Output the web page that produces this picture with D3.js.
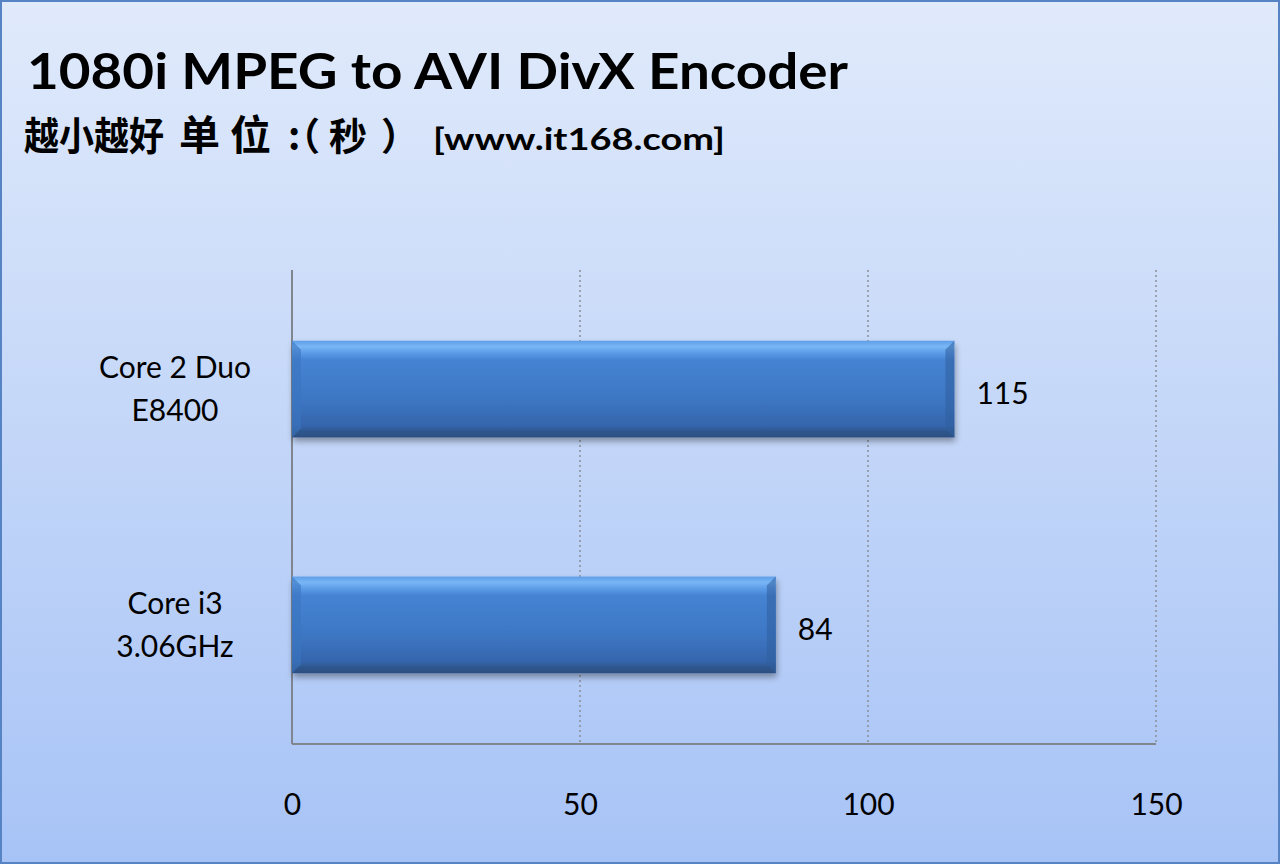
<!DOCTYPE html>
<html><head><meta charset="utf-8">
<script src="https://cdn.jsdelivr.net/npm/d3@7"></script>
<style>html,body{margin:0;padding:0;background:#fff}svg{display:block}</style>
</head><body>
<script>
const categories = ["Core 2 Duo\nE8400", "Core i3\n3.06GHz"];
const values = [115, 84];
const tickValues = [0, 50, 100, 150];
const title = "1080i MPEG to AVI DivX Encoder";
const subtitleParts = ["越小越好", "单位", ":（秒）", "[www.it168.com]"];

(function(){
const W = 1280, H = 864;
const svg = d3.select("body").append("svg").attr("width", W).attr("height", H);
const defs = svg.append("defs");
const bg = defs.append("linearGradient").attr("id","bg").attr("x1",0).attr("y1",0).attr("x2",0).attr("y2",1);
bg.append("stop").attr("offset","0%").attr("stop-color","#e0eafb");
bg.append("stop").attr("offset","100%").attr("stop-color","#a7c3f6");
const bar = defs.append("linearGradient").attr("id","bar").attr("x1",0).attr("y1",0).attr("x2",0).attr("y2",1);
[[0,"#5f9ee8"],[0.06,"#78b6f5"],[0.13,"#5a9ae6"],[0.2,"#4583d2"],[0.6,"#3d77c4"],[0.88,"#3565ac"],[0.93,"#2f5890"],[1,"#2c4e80"]]
  .forEach(([o,c])=>bar.append("stop").attr("offset",o).attr("stop-color",c));
const sh = defs.append("filter").attr("id","sh").attr("x","-5%").attr("y","-20%").attr("width","110%").attr("height","150%");
sh.append("feGaussianBlur").attr("in","SourceAlpha").attr("stdDeviation",3);
sh.append("feOffset").attr("dx",1).attr("dy",4).attr("result","b");
sh.append("feComponentTransfer").append("feFuncA").attr("type","linear").attr("slope",0.35);
const m = sh.append("feMerge"); m.append("feMergeNode"); m.append("feMergeNode").attr("in","SourceGraphic");

svg.append("rect").attr("x",1).attr("y",1).attr("width",W-2).attr("height",H-2)
  .attr("fill","url(#bg)").attr("stroke","#5583c4").attr("stroke-width",2);

const font = "Lato, 'Open Sans', sans-serif";
const cjk = "'Noto Sans CJK SC', sans-serif";
svg.append("text").attr("x",27).attr("y",89).attr("font-family",font).attr("font-weight","bold")
  .attr("font-size",50).attr("fill","#000").attr("textLength",821).attr("lengthAdjust","spacingAndGlyphs").text(title);

const subSpec = [
  {x:"24", len:140, adj:"spacingAndGlyphs", f:cjk, s:39, ls:0},
  {x:"179", len:null, f:cjk, s:41, ls:10},
  {x:"288 282 329 381", len:null, f:cjk, s:38, ls:0},
  {x:"433", len:292, adj:"spacingAndGlyphs", f:font, s:30, ls:0}
];
svg.append("g").selectAll("text").data(subtitleParts.map((t,i)=>({t,...subSpec[i]}))).join("text")
  .attr("x",d=>d.x).attr("y",150)
  .attr("font-family",d=>d.f).attr("font-size",d=>d.s)
  .attr("font-weight","bold").attr("fill","#000").attr("letter-spacing",d=>d.ls||null)
  .attr("textLength",d=>d.len).attr("lengthAdjust",d=>d.adj||null).text(d=>d.t);

const pl = 292, pr = 1156, pt = 270, pb = 744;
const x = d3.scaleLinear().domain([0,150]).range([pl,pr]);
const y = d3.scaleBand().domain(categories).range([pt,pb]).paddingInner(0.59).paddingOuter(0.3);

svg.append("g").selectAll("line").data(tickValues.filter(d=>d>0)).join("line")
  .attr("x1",d=>x(d)).attr("x2",d=>x(d)).attr("y1",pt).attr("y2",pb)
  .attr("stroke","#8a8f98").attr("stroke-width",1.5).attr("stroke-dasharray","2,3");

svg.append("line").attr("x1",pl).attr("x2",pl).attr("y1",pt).attr("y2",pb).attr("stroke","#7f868f").attr("stroke-width",2);
svg.append("line").attr("x1",pl).attr("x2",pr).attr("y1",pb).attr("y2",pb).attr("stroke","#7f868f").attr("stroke-width",2);

const xa = svg.append("g").attr("transform",`translate(0,${pb})`)
  .call(d3.axisBottom(x).tickValues(tickValues).tickSize(0).tickPadding(50));
xa.select(".domain").remove();
xa.selectAll("text").attr("font-family",font).attr("font-size",30).attr("fill","#000");

const bars = svg.append("g").selectAll("g").data(categories.map((c,i)=>({c,v:values[i]}))).join("g");
bars.append("rect").attr("x",x(0)).attr("y",d=>y(d.c)).attr("width",d=>x(d.v)-x(0)).attr("height",y.bandwidth())
  .attr("fill","url(#bar)").attr("filter","url(#sh)");
bars.append("path").attr("d",d=>{const x1=x(d.v),y0=y(d.c),h=y.bandwidth(),b=9;
  return `M${x1},${y0} L${x1-b},${y0+b} L${x1-b},${y0+h-b} L${x1},${y0+h} Z`;}).attr("fill","#2f5f9e").attr("opacity",0.55);
bars.append("path").attr("d",d=>{const x0=x(0),y0=y(d.c),h=y.bandwidth(),b=9;
  return `M${x0},${y0} L${x0+b},${y0+b} L${x0+b},${y0+h-b} L${x0},${y0+h} Z`;}).attr("fill","#3a74c0").attr("opacity",0.6);
bars.append("text").attr("x",d=>x(d.v)+22).attr("y",d=>y(d.c)+y.bandwidth()/2+15)
  .attr("font-family",font).attr("font-size",30).attr("fill","#000").text(d=>d.v);

const cl = svg.append("g").selectAll("text").data(categories).join("text")
  .attr("x",175).attr("y",d=>y(d)+y.bandwidth()/2-11).attr("text-anchor","middle")
  .attr("font-family",font).attr("font-size",30).attr("fill","#000");
cl.selectAll("tspan").data(d=>d.split("\n")).join("tspan").attr("x",175)
  .attr("dy",(d,i)=>i===0?0:43).text(d=>d);
})();
</script>
</body></html>
